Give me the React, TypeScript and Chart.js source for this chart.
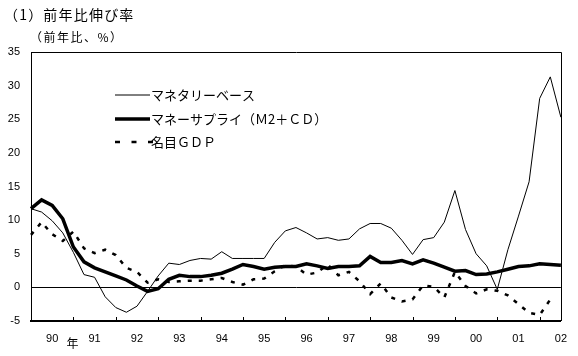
import React, { useEffect, useRef } from "react";
import { Chart, registerables } from "chart.js";

Chart.register(...registerables);

const FONT_CJK = '"Noto Sans CJK JP", "DejaVu Sans", sans-serif';
const FONT_NUM = '"Liberation Sans", "DejaVu Sans", sans-serif';

const titleText = "（1）前年比伸び率";
const unitText = "（前年比、%）";
const yearMarker = "年";

const years = [1990, 1991, 1992, 1993, 1994, 1995, 1996, 1997, 1998, 1999, 2000, 2001, 2002];
const quarterNames = ["Q1", "Q2", "Q3", "Q4"];
const quarterLabels: string[] = years
  .flatMap((y) => quarterNames.map((q) => `${y}${q}`))
  .slice(0, 51);

const yearTickLabels = ["90", "91", "92", "93", "94", "95", "96", "97", "98", "99", "00", "01", "02"];

const seriesNames = ["マネタリーベース", "マネーサプライ（Ｍ2＋ＣＤ）", "名目ＧＤＰ"];

const monetaryBase = [
  11.7, 11.2, 9.9, 8.1, 5.2, 1.9, 1.5, -1.4, -3.0, -3.7,
  -2.8, -0.6, 1.7, 3.6, 3.4, 4.0, 4.3, 4.2, 5.3, 4.3,
  4.3, 4.3, 4.3, 6.7, 8.4, 8.9, 8.1, 7.2, 7.4, 7.0,
  7.2, 8.7, 9.5, 9.5, 8.8, 7.0, 4.9, 7.1, 7.4, 9.7,
  14.4, 8.6, 5.0, 3.2, -0.3, 5.6, 10.6, 15.7, 28.1, 31.3,
  25.3,
];

const moneySupply = [
  11.7, 13.0, 12.2, 10.2, 6.0, 3.8, 2.9, 2.3, 1.7, 1.1,
  0.2, -0.6, -0.2, 1.2, 1.8, 1.6, 1.6, 1.8, 2.1, 2.7,
  3.4, 3.1, 2.7, 3.0, 3.1, 3.1, 3.5, 3.2, 2.8, 3.1,
  3.1, 3.2, 4.6, 3.7, 3.7, 4.0, 3.5, 4.1, 3.6, 3.0,
  2.4, 2.5, 1.9, 2.0, 2.3, 2.7, 3.1, 3.2, 3.5, 3.4,
  3.3,
];

const nominalGDP: (number | null)[] = [
  7.8, 9.7, 7.9, 6.9, 8.3, 5.8, 5.1, 5.6, 4.8, 2.9,
  2.3, 0.7, 1.2, 0.8, 0.9, 1.0, 1.0, 1.2, 1.4, 0.8,
  0.4, 1.2, 1.3, 2.4, 3.3, 3.1, 1.9, 2.2, 3.4, 1.8,
  2.3, 0.9, -1.0, 0.6, -1.5, -2.1, -1.8, 0.3, 0.1, -1.5,
  2.3, 0.2, -0.9, -0.3, -0.5, -1.2, -2.5, -3.8, -4.1, -1.8,
  null,
];

const yMin = -5;
const yMax = 35;
const yStep = 5;

export default function App() {
  const canvasRef = useRef<HTMLCanvasElement | null>(null);

  useEffect(() => {
    const canvas = canvasRef.current;
    if (!canvas) return;

    const decorPlugin = {
      id: "decor",
      afterDraw(chart: any) {
        const { ctx, chartArea, scales } = chart;
        const x = scales.x;
        ctx.save();
        // frame top & right
        ctx.strokeStyle = "#000";
        ctx.lineWidth = 1;
        ctx.beginPath();
        ctx.moveTo(Math.round(chartArea.left) + 0.5, Math.round(chartArea.top) + 0.5);
        ctx.lineTo(Math.round(chartArea.right) + 0.5, Math.round(chartArea.top) + 0.5);
        ctx.lineTo(Math.round(chartArea.right) + 0.5, Math.round(chartArea.bottom));
        ctx.stroke();
        // inward year ticks
        for (let i = 4; i < quarterLabels.length - 1; i += 4) {
          const px = Math.round(x.getPixelForValue(i)) + 0.5;
          ctx.beginPath();
          ctx.moveTo(px, chartArea.bottom - 4);
          ctx.lineTo(px, chartArea.bottom);
          ctx.stroke();
        }
        // titles
        ctx.fillStyle = "#000";
        ctx.textBaseline = "middle";
        ctx.textAlign = "left";
        ctx.font = `14px ${FONT_CJK}`;
        (ctx as any).letterSpacing = "1.2px";
        ctx.fillText(titleText, 4, 15);
        ctx.font = `12px ${FONT_CJK}`;
        (ctx as any).letterSpacing = "1.5px";
        ctx.fillText(unitText, 30, 37);
        (ctx as any).letterSpacing = "0px";
        // year marker
        ctx.textAlign = "center";
        ctx.font = `12px ${FONT_CJK}`;
        ctx.fillText(yearMarker, x.getPixelForValue(4) - 1, 343);
        // legend
        const rows = [95, 119, 142];
        chart.data.datasets.forEach((ds: any, i: number) => {
          const y = rows[i];
          const dashed = ds.borderDash && ds.borderDash.length;
          ctx.strokeStyle = "#000";
          ctx.lineWidth = ds.borderWidth;
          ctx.setLineDash(dashed ? [5, 11.5] : []);
          ctx.beginPath();
          ctx.moveTo(115, y);
          ctx.lineTo(dashed ? 153 : 150, y);
          ctx.stroke();
          ctx.setLineDash([]);
          ctx.textAlign = "left";
          ctx.font = `13px ${FONT_CJK}`;
          ctx.fillText(ds.label, 151, y);
        });
        ctx.restore();
      },
    };

    const chart = new Chart(canvas, {
      type: "line",
      data: {
        labels: quarterLabels,
        datasets: [
          {
            label: seriesNames[0],
            data: monetaryBase,
            borderColor: "#000",
            borderWidth: 1,
            pointRadius: 0,
            tension: 0,
            fill: false,
          },
          {
            label: seriesNames[1],
            data: moneySupply,
            borderColor: "#000",
            borderWidth: 3.5,
            pointRadius: 0,
            tension: 0,
            fill: false,
          },
          {
            label: seriesNames[2],
            data: nominalGDP,
            borderColor: "#000",
            borderWidth: 2.5,
            borderDash: [4, 7],
            pointRadius: 0,
            tension: 0,
            fill: false,
          },
        ],
      },
      options: {
        responsive: false,
        animation: false,
        layout: { padding: { top: 52, right: 11, bottom: 0, left: 0 } },
        plugins: {
          legend: { display: false },
          title: { display: false },
          tooltip: { enabled: false },
        },
        scales: {
          x: {
            type: "category",
            offset: false,
            grid: { display: false, drawTicks: false },
            border: { display: true, color: "#000", width: 2 },
            ticks: {
              autoSkip: false,
              maxRotation: 0,
              minRotation: 0,
              padding: 11,
              color: "#000",
              font: { family: FONT_NUM, size: 11 },
              callback: (_v: any, index: number) => {
                if (index === quarterLabels.length - 1) return yearTickLabels[12];
                if (index % 4 === 2) return yearTickLabels[Math.floor(index / 4)];
                return "";
              },
            },
            afterFit: (s: any) => {
              s.height = 35;
            },
          },
          y: {
            min: yMin,
            max: yMax,
            ticks: {
              stepSize: yStep,
              padding: 11,
              color: "#000",
              font: { family: FONT_NUM, size: 11 },
            },
            grid: {
              drawTicks: false,
              color: (ctx: any) => (ctx.tick && ctx.tick.value === 0 ? "#000" : "rgba(0,0,0,0)"),
              lineWidth: 1,
            },
            border: { display: true, color: "#000", width: 1 },
            afterFit: (s: any) => {
              s.width = 31;
            },
          },
        },
      },
      plugins: [decorPlugin],
    });

    return () => chart.destroy();
  }, []);

  return (
    <div style={{ position: "absolute", left: 0, top: 0, width: 578, height: 356, background: "#fff" }}>
      <canvas ref={canvasRef} width={578} height={356} style={{ display: "block" }} />
    </div>
  );
}
